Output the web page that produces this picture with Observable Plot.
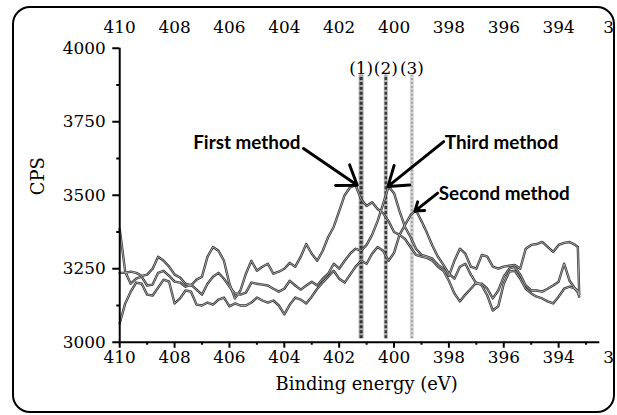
<!DOCTYPE html>
<html><head><meta charset="utf-8">
<script src="https://cdn.jsdelivr.net/npm/d3@7"></script>
<script src="https://cdn.jsdelivr.net/npm/@observablehq/plot@0.6"></script>
<style>
html,body{margin:0;padding:0;background:#fff;}
#wrap{position:absolute;left:12px;top:6px;width:603px;height:407px;box-sizing:border-box;border:2px solid #000;border-radius:18px;overflow:hidden;}
#chart{position:absolute;left:-14px;top:-8px;}
</style></head><body>
<div id="wrap"><div id="chart"></div></div>
<script>
// Binding energy (eV) sample positions
const energy = [410,409.8,409.6,409.4,409.2,409,408.8,408.6,408.4,408.2,408,407.8,407.6,407.4,407.2,407,406.8,406.6,406.4,406.2,406,405.8,405.6,405.4,405.2,405,404.8,404.6,404.4,404.2,404,403.8,403.6,403.4,403.2,403,402.8,402.6,402.4,402.2,402,401.8,401.6,401.4,401.2,401,400.8,400.6,400.4,400.2,400,399.8,399.6,399.4,399.2,399,398.8,398.6,398.4,398.2,398,397.8,397.6,397.4,397.2,397,396.8,396.6,396.4,396.2,396,395.8,395.6,395.4,395.2,395,394.8,394.6,394.4,394.2,394,393.8,393.6,393.4,393.3,393.25];
// CPS values
const firstMethod = [3236,3236,3240,3236,3226,3230,3250,3291,3277,3257,3230,3220,3199,3193,3213,3223,3291,3324,3311,3277,3199,3149,3176,3233,3277,3243,3257,3267,3233,3240,3250,3270,3257,3291,3334,3301,3277,3311,3358,3392,3446,3500,3527,3534,3486,3463,3476,3453,3439,3412,3375,3365,3351,3324,3297,3291,3287,3277,3257,3243,3209,3166,3139,3162,3182,3203,3193,3159,3108,3122,3199,3240,3243,3216,3182,3166,3155,3149,3139,3132,3155,3182,3189,3182,3176,3162];
const secondMethod = [3064,3132,3172,3203,3199,3162,3159,3186,3213,3206,3132,3149,3176,3172,3128,3125,3135,3128,3145,3152,3122,3132,3125,3125,3135,3152,3142,3135,3142,3125,3095,3128,3152,3145,3132,3155,3182,3203,3223,3243,3216,3203,3230,3257,3277,3267,3301,3324,3311,3277,3304,3365,3399,3432,3449,3412,3372,3328,3291,3263,3233,3216,3257,3267,3230,3199,3199,3182,3149,3176,3223,3250,3257,3230,3193,3176,3176,3172,3182,3193,3206,3267,3209,3182,3169,3155];
const thirdMethod = [3385,3240,3199,3216,3223,3193,3196,3236,3243,3226,3206,3203,3189,3196,3179,3162,3199,3223,3236,3216,3189,3166,3162,3169,3203,3199,3196,3193,3182,3172,3182,3209,3193,3179,3193,3206,3193,3216,3233,3267,3250,3277,3301,3318,3311,3331,3365,3412,3470,3530,3507,3446,3392,3358,3318,3297,3291,3284,3263,3250,3226,3277,3318,3301,3257,3250,3297,3291,3257,3250,3257,3260,3263,3250,3318,3331,3334,3341,3324,3307,3331,3338,3341,3331,3324,3166];

const xTicks = [410,408,406,404,402,400,398,396,394];
const xEdgeTick = [392];
const xMinorTicks = [409,407,405,403,401,399,397,395,393];
const yTicks = [3000,3250,3500,3750,4000];
const yMinorTicks = [3125,3375,3625,3875];

const peakEnergy = [401.2, 400.3, 399.35];
const peakLabels = ["(1)", "(2)", "(3)"];

const methodNames = ["First method", "Third method", "Second method"];
const noteE = [403.41, 398.15, 398.37];
const noteV = [3679, 3679, 3503];
const arrowFromE = [403.3, 398.19, 398.41];
const arrowFromV = [3659, 3682, 3507];
const arrowToE = [401.34, 400.22, 399.24];
const arrowToV = [3534, 3530, 3446];

const rows = [];
[["First method", firstMethod], ["Second method", secondMethod], ["Third method", thirdMethod]]
  .forEach(([name, vals]) => vals.forEach((v, i) => rows.push({E: energy[i], V: v, series: name})));

const idx = [0, 1, 2];
const serif = "DejaVu Serif";
const fmt = d => String(d);

const plot = Plot.plot({
  width: 617, height: 415,
  marginLeft: 120, marginRight: 0, marginTop: 48, marginBottom: 71,
  x: {domain: [410, 392]},
  y: {domain: [3000, 4000]},
  style: {fontFamily: serif, fontSize: "17px", background: "transparent", color: "#000", overflow: "visible"},
  marks: [
    // reference peak lines
    Plot.ruleX([0], {x: () => peakEnergy[0], y1: 3012, y2: 3908, stroke: "#aaa", strokeWidth: 5}),
    Plot.ruleX([0], {x: () => peakEnergy[0], y1: 3012, y2: 3908, stroke: "#333", strokeWidth: 3, strokeDasharray: "3,2"}),
    Plot.ruleX([0], {x: () => peakEnergy[1], y1: 3012, y2: 3908, stroke: "#b5b5b5", strokeWidth: 4}),
    Plot.ruleX([0], {x: () => peakEnergy[1], y1: 3012, y2: 3908, stroke: "#3a3a3a", strokeWidth: 2.5, strokeDasharray: "3,2"}),
    Plot.ruleX([0], {x: () => peakEnergy[2], y1: 3012, y2: 3908, stroke: "#d6d6d6", strokeWidth: 4}),
    Plot.ruleX([0], {x: () => peakEnergy[2], y1: 3012, y2: 3908, stroke: "#a0a0a0", strokeWidth: 2, strokeDasharray: "2,2"}),
    Plot.text(peakLabels, {x: peakEnergy, y: () => 3930, text: d => d, fontSize: 17, fontFamily: serif}),
    // spectra
    Plot.line(rows, {x: "E", y: "V", z: "series", stroke: "#333", strokeWidth: 2.4, strokeLinejoin: "round"}),
    Plot.line(rows, {x: "E", y: "V", z: "series", stroke: "#c4c4c4", strokeWidth: 0.8, strokeLinejoin: "round"}),
    // axes
    Plot.axisX({anchor: "bottom", ticks: xTicks, tickSize: 6, tickPadding: 3, strokeWidth: 2, label: null, tickFormat: fmt, fontFamily: serif, fontSize: 17}),
    Plot.axisX({anchor: "bottom", ticks: xEdgeTick, tickSize: 0, tickPadding: 9, label: null, tickFormat: fmt, fontFamily: serif, fontSize: 17, dx: 6}),
    Plot.axisX({anchor: "bottom", ticks: xMinorTicks, tickSize: 3, strokeWidth: 2, tickFormat: () => "", label: null}),
    Plot.axisX({anchor: "top", ticks: xTicks, tickSize: 0, tickPadding: 15, label: null, tickFormat: fmt, fontFamily: serif, fontSize: 17}),
    Plot.axisX({anchor: "top", ticks: xEdgeTick, tickSize: 0, tickPadding: 15, label: null, tickFormat: fmt, fontFamily: serif, fontSize: 17, dx: 6}),
    Plot.axisY({anchor: "left", ticks: yTicks, tickSize: 7, tickPadding: 7, strokeWidth: 2, label: null, tickFormat: fmt, fontFamily: serif, fontSize: 17}),
    Plot.axisY({anchor: "left", ticks: yMinorTicks, tickSize: 3, strokeWidth: 2, tickFormat: () => "", label: null}),
    Plot.ruleX([410], {y1: 3000, y2: 4000, strokeWidth: 2}),
    Plot.ruleY([3000], {x1: 410, x2: 392.5, strokeWidth: 2}),
    Plot.text(["CPS"], {frameAnchor: "left", rotate: -90, dx: -82, fontSize: 18, fontFamily: serif}),
    Plot.text(["Binding energy (eV)"], {frameAnchor: "bottom", dy: 48, fontSize: 18, fontFamily: serif}),
    // annotations
    Plot.arrow(idx, {x1: i => arrowFromE[i], y1: i => arrowFromV[i], x2: i => arrowToE[i], y2: i => arrowToV[i], stroke: "#000", strokeWidth: 3, headLength: 11, headAngle: 70}),
    Plot.text([0], {x: i => noteE[i], y: i => noteV[i], text: i => methodNames[i], textAnchor: "end", fontFamily: "Lato", fontWeight: "bold", fontSize: 19}),
    Plot.text([1, 2], {x: i => noteE[i], y: i => noteV[i], text: i => methodNames[i], textAnchor: "start", fontFamily: "Lato", fontWeight: "bold", fontSize: 19})
  ]
});
document.getElementById("chart").appendChild(plot);
</script>
</body></html>
